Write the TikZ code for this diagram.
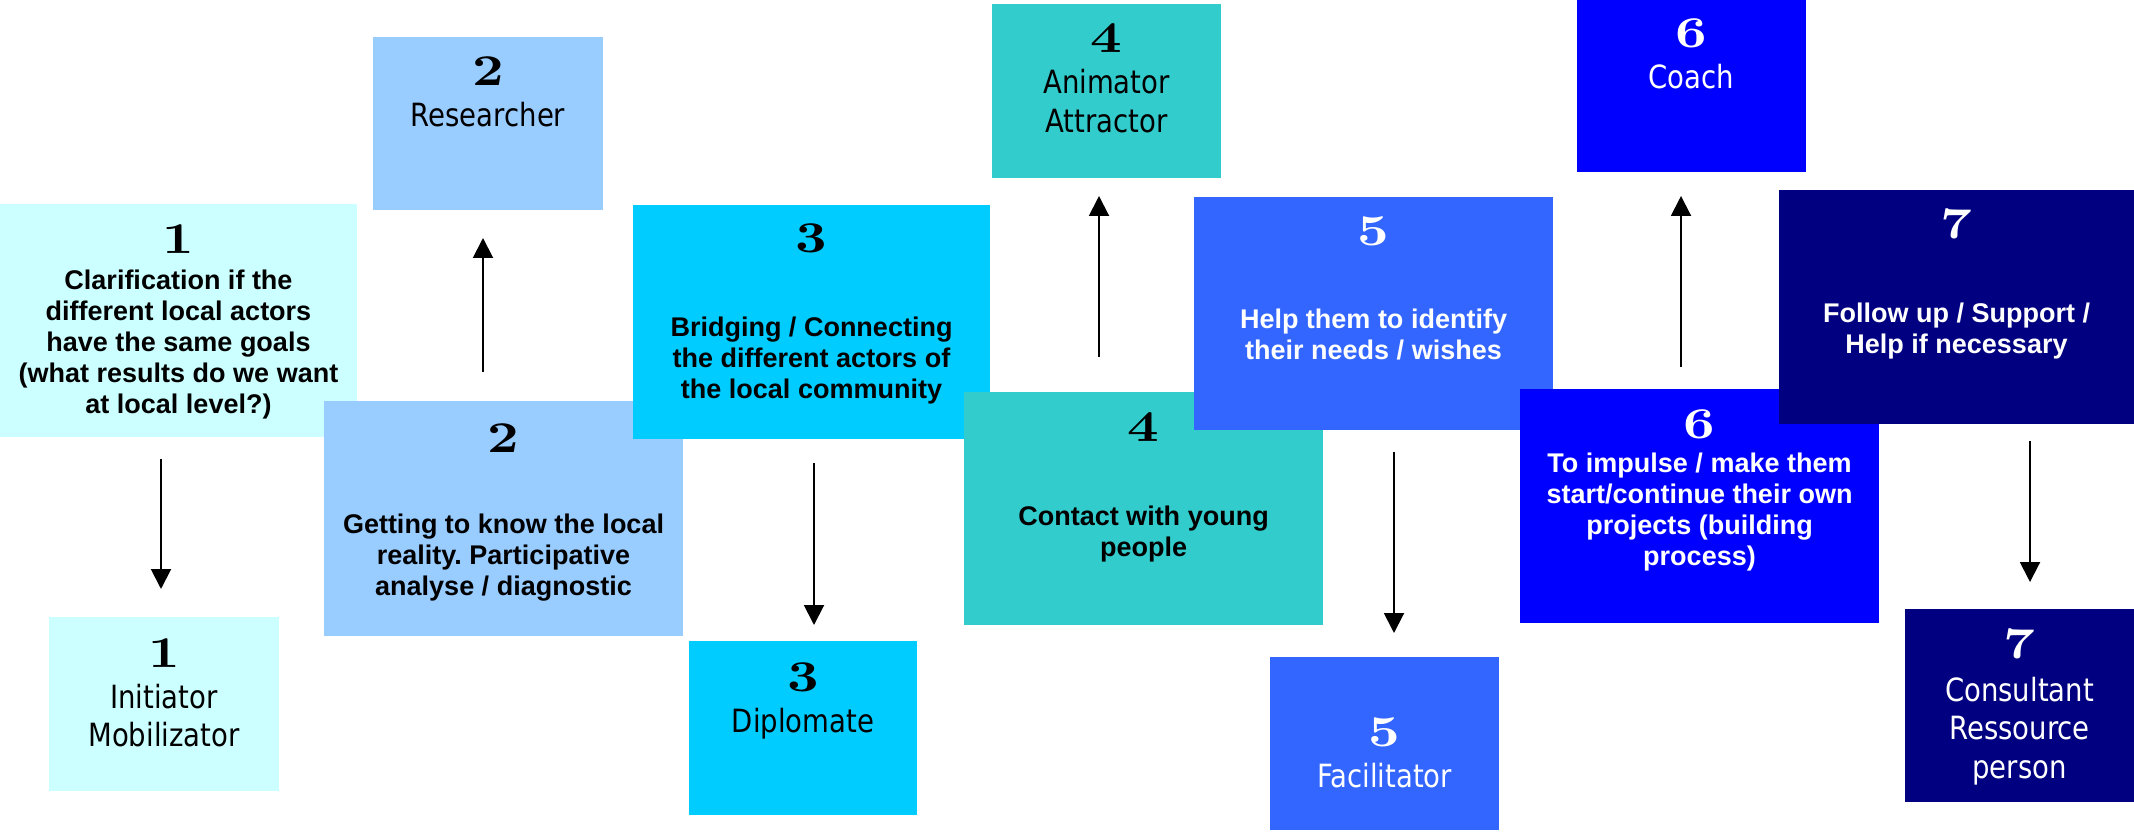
\documentclass[tikz,border=0pt]{standalone}
\usepackage{fontspec}
\usetikzlibrary{arrows.meta}
\newfontfamily\descfont{Liberation Sans}
\newfontfamily\rolefont[FakeStretch=0.86]{DejaVu Sans}
\newfontfamily\numfont[FakeStretch=1.25,Extension=.otf,UprightFont=*-bold]{lmroman10}
\definecolor{cA}{HTML}{CCFFFF}
\definecolor{cB}{HTML}{99CCFF}
\definecolor{cC}{HTML}{00CCFF}
\definecolor{cD}{HTML}{33CCCC}
\definecolor{cE}{HTML}{3366FF}
\definecolor{cF}{HTML}{0000FF}
\definecolor{cG}{HTML}{000080}
\newcommand{\mlines}[1]{\begin{tabular}[t]{@{}c@{}}#1\end{tabular}}
\frenchspacing
\begin{document}
\begin{tikzpicture}[x=1pt,y=-1pt,
  bx/.style={draw=none, inner sep=0pt, outer sep=0pt, anchor=north west},
  num/.style={anchor=base, inner sep=0pt, font=\numfont\fontsize{44}{44}\selectfont},
  desc/.style={anchor=base, inner sep=0pt, font=\descfont\bfseries\fontsize{27}{31}\selectfont},
  role/.style={anchor=base, inner sep=0pt, font=\rolefont\fontsize{32}{38.5}\selectfont},
  arr/.style={line width=2pt, -{Triangle[width=20pt,length=20pt]}},
  wt/.style={text=white}
]
\useasboundingbox (0,0) rectangle (2134,834);

% ---- bottom / top role boxes (no overlaps) ----
\node[bx, fill=cA, minimum width=230pt, minimum height=174pt] (r1) at (49,617) {};
\node[num] (r1n) at (164,667) {1};
\node[role] (r1t) at (164,708) {\mlines{Initiator\\Mobilizator}};

\node[bx, fill=cB, minimum width=230pt, minimum height=173pt] (r2) at (373,37) {};
\node[num] (r2n) at (488,86) {2};
\node[role] (r2t) at (488,127) {\mlines{Researcher}};

\node[bx, fill=cC, minimum width=228pt, minimum height=174pt] (r3) at (689,641) {};
\node[num] (r3n) at (803,691) {3};
\node[role] (r3t) at (803,732) {\mlines{Diplomate}};

\node[bx, fill=cD, minimum width=229pt, minimum height=174pt] (r4) at (992,4) {};
\node[num] (r4n) at (1106.5,53) {4};
\node[role] (r4t) at (1106.5,94) {\mlines{Animator\\Attractor}};

\node[bx, fill=cE, minimum width=229pt, minimum height=173pt] (r5) at (1270,657) {};
\node[num, wt] (r5n) at (1384.5,746) {5};
\node[role, wt] (r5t) at (1384.5,787) {\mlines{Facilitator}};

\node[bx, fill=cF, minimum width=229pt, minimum height=172pt] (r6) at (1577,0) {};
\node[num, wt] (r6n) at (1691.5,48) {6};
\node[role, wt] (r6t) at (1691.5,89) {\mlines{Coach}};

\node[bx, fill=cG, minimum width=229pt, minimum height=193pt] (r7) at (1905,609) {};
\node[num, wt] (r7n) at (2019.5,658) {7};
\node[role, wt] (r7t) at (2019.5,701) {\mlines{Consultant\\Ressource\\person}};

% ---- overlapping task boxes, drawn in order ----
\node[bx, fill=cA, minimum width=357pt, minimum height=233pt] (t1) at (0,204) {};
\node[num] (t1n) at (178.5,254) {1};
\node[desc] (t1t) at (178.5,290) {\mlines{Clarification if the\\different local actors\\have the same goals\\(what results do we want\\at local level?)}};

\node[bx, fill=cB, minimum width=359pt, minimum height=235pt] (t2) at (324,401) {};
\node[num] (t2n) at (503.5,452) {2};
\node[desc] (t2t) at (503.5,533) {\mlines{Getting to know the local\\reality. Participative\\analyse / diagnostic}};

\node[bx, fill=cC, minimum width=357pt, minimum height=234pt] (t3) at (633,205) {};
\node[num] (t3n) at (811.5,253) {3};
\node[desc] (t3t) at (811.5,337) {\mlines{Bridging / Connecting\\the different actors of\\the local community}};

\node[bx, fill=cD, minimum width=359pt, minimum height=233pt] (t4) at (964,392) {};
\node[num] (t4n) at (1143.5,441) {4};
\node[desc] (t4t) at (1143.5,525) {\mlines{Contact with young\\people}};

\node[bx, fill=cE, minimum width=359pt, minimum height=233pt] (t5) at (1194,197) {};
\node[num, wt] (t5n) at (1373.5,246) {5};
\node[desc, wt] (t5t) at (1373.5,329) {\mlines{Help them to identify\\their needs / wishes}};

\node[bx, fill=cF, minimum width=359pt, minimum height=234pt] (t6) at (1520,389) {};
\node[num, wt] (t6n) at (1699.5,438) {6};
\node[desc, wt] (t6t) at (1699.5,472) {\mlines{To impulse / make them\\start/continue their own\\projects (building\\process)}};

\node[bx, fill=cG, minimum width=355pt, minimum height=234pt] (t7) at (1779,190) {};
\node[num, wt] (t7n) at (1956.5,239) {7};
\node[desc, wt] (t7t) at (1956.5,323) {\mlines{Follow up / Support /\\Help if necessary}};

% ---- arrows ----
\coordinate (a1s) at (161,459);  \coordinate (a1e) at (161,589);
\coordinate (a2s) at (483,372);  \coordinate (a2e) at (483,238);
\coordinate (a3s) at (814,463);  \coordinate (a3e) at (814,625);
\coordinate (a4s) at (1099,357); \coordinate (a4e) at (1099,196);
\coordinate (a5s) at (1394,452); \coordinate (a5e) at (1394,633);
\coordinate (a6s) at (1681,367); \coordinate (a6e) at (1681,196);
\coordinate (a7s) at (2030,441); \coordinate (a7e) at (2030,582);
\draw[arr] (a1s) -- (a1e);
\draw[arr] (a2s) -- (a2e);
\draw[arr] (a3s) -- (a3e);
\draw[arr] (a4s) -- (a4e);
\draw[arr] (a5s) -- (a5e);
\draw[arr] (a6s) -- (a6e);
\draw[arr] (a7s) -- (a7e);
\end{tikzpicture}
\end{document}
